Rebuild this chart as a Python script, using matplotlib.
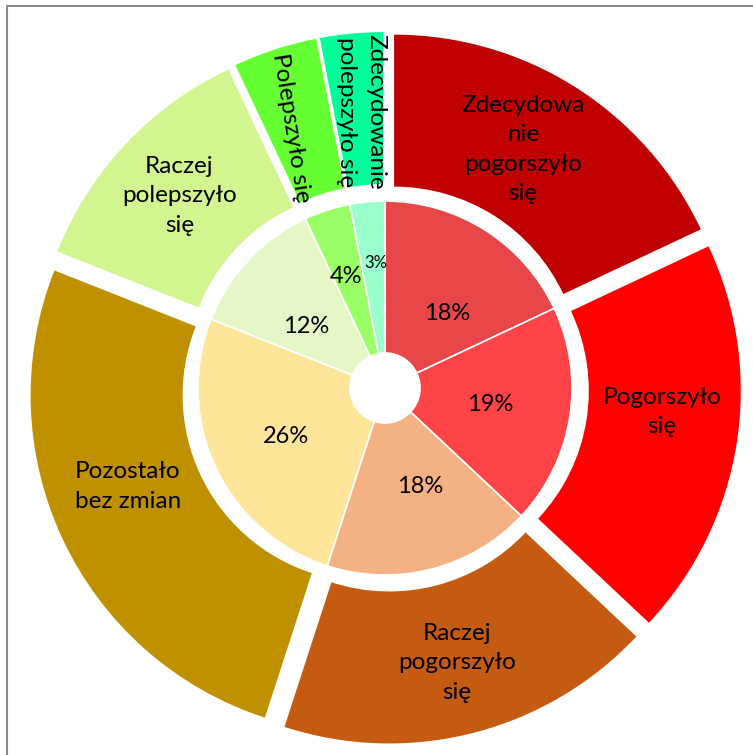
import matplotlib
matplotlib.use("Agg")
import matplotlib.pyplot as plt
from matplotlib.patches import Rectangle
import numpy as np

# Share of answers per category (percent)
categories = [
    "Zdecydowanie pogorszyło się",
    "Pogorszyło się",
    "Raczej pogorszyło się",
    "Pozostało bez zmian",
    "Raczej polepszyło się",
    "Polepszyło się",
    "Zdecydowanie polepszyło się",
]
shares = [18, 19, 18, 26, 12, 4, 3]

# Labels shown on the outer ring (line breaks as printed)
outer_labels = [
    "Zdecydowa\nnie\npogorszyło\nsię",
    "Pogorszyło\nsię",
    "Raczej\npogorszyło\nsię",
    "Pozostało\nbez zmian",
    "Raczej\npolepszyło\nsię",
    "Polepszyło się",
    "Zdecydowanie\npolepszyło się",
]

outer_colors = ["#C00000", "#FF0000", "#C55A11", "#BF9000",
                "#D2F590", "#66FF33", "#00FF99"]
inner_colors = ["#E84749", "#FF4447", "#F4B183", "#FFE599",
                "#E6F7C7", "#99FF66", "#99FFCC"]

plt.rcParams["font.family"] = ["Lato", "DejaVu Sans"]

W, H = 753, 755
fig = plt.figure(figsize=(W / 100, H / 100), dpi=100)
ax = fig.add_axes([0, 0, 1, 1])

cx, cy = 385, H - 388
r_outer, r_mid, r_hole = 339, 187, 35
pull = 17  # outward offset of each outer slice, in data units

# outer ring, every slice pulled out
outer_wedges, outer_texts = ax.pie(
    shares, radius=r_outer, center=(cx, cy), startangle=90, counterclock=False,
    colors=outer_colors, explode=[pull] * len(shares),
    labels=outer_labels, labeldistance=0.765,
    wedgeprops=dict(width=r_outer - r_mid, linewidth=0),
    textprops=dict(fontsize=17.5, color="black"),
    frame=True,
)
# label tweaks: rotation and small shifts so the text fits its slice
rotations = [0, 0, 0, 0, 0, -81, -90]
nudges = [(-10, 5), (4, 19), (3, -7), (-7, 19), (-4, 3), (-8, -3), (2, 1)]
for t, rot, (dx, dy) in zip(outer_texts, rotations, nudges):
    x, y = t.get_position()
    t.set_position((x + dx, y + dy))
    t.set_ha("center")
    t.set_va("center")
    t.set_rotation(rot)
    t.set_rotation_mode("anchor")
    t.set_linespacing(1.5)

# inner ring with percentages
inner_wedges, _ = ax.pie(
    shares, radius=r_mid, center=(cx, cy), startangle=90, counterclock=False,
    colors=inner_colors,
    wedgeprops=dict(width=r_mid - r_hole, edgecolor="white", linewidth=1.2),
    frame=True,
)
label_r = [97, 107, 105, 110, 100, 118, 125]
label_turn = [-7.2, 0, 5.1, 1.1, 5.5, 1.4, -1.4]
label_size = [17, 17, 17, 17, 17, 17, 12]
for w, v, rr, dt, fs in zip(inner_wedges, shares, label_r, label_turn, label_size):
    ang = np.deg2rad((w.theta1 + w.theta2) / 2 + dt)
    ax.text(cx + rr * np.cos(ang), cy + rr * np.sin(ang),
            f"{v}%", ha="center", va="center", fontsize=fs, color="black")

ax.set_xlim(0, W)
ax.set_ylim(0, H)
ax.set_aspect("equal")
ax.axis("off")

# chart area border (runs past the right and bottom edges)
fig.patches.append(Rectangle((7 / W, -0.05), 2, (H - 6) / H + 0.05,
                             transform=fig.transFigure, fill=False,
                             edgecolor="#8C8C8C", linewidth=1.5))

fig.savefig("out.png", dpi=100)
